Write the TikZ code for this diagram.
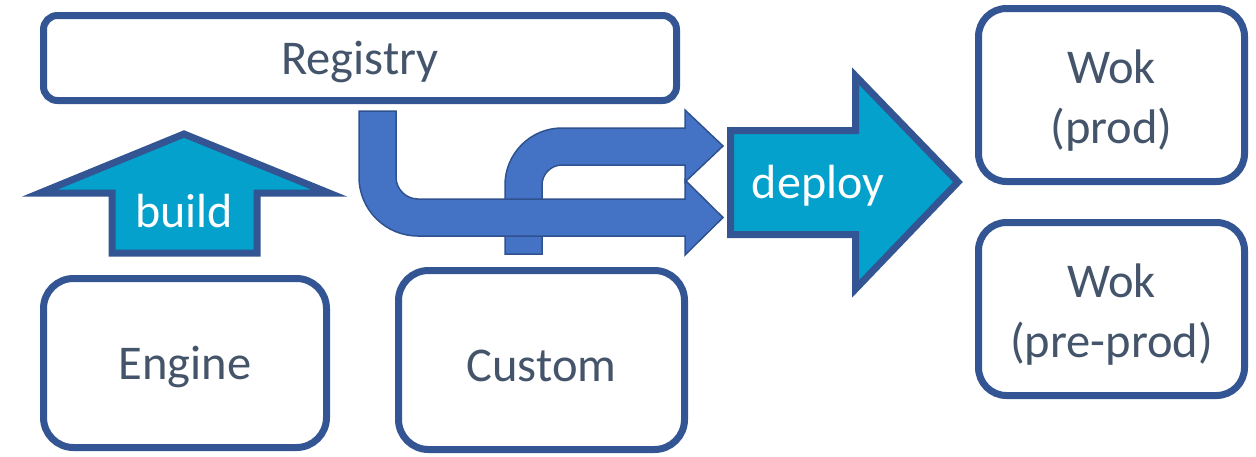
\documentclass[tikz,border=0pt]{standalone}
\usepackage{fontspec}
\setmainfont{Carlito}
\definecolor{boxline}{HTML}{335593}
\definecolor{txt}{HTML}{44546A}
\definecolor{cyanfill}{HTML}{03A1CB}
\definecolor{bluefill}{HTML}{4472C4}
\definecolor{blueline}{HTML}{2F528F}
\tikzset{
  box/.style={draw=boxline, line width=7pt, rounded corners=#1, fill=white, inner sep=0pt},
  boxtext/.style={text=txt, font=\fontsize{48.5}{60}\selectfont, align=center, inner sep=0pt},
  bigarrow/.style={draw=boxline, line width=7pt, fill=cyanfill, line join=miter, miter limit=10},
  bentarrow/.style={draw=blueline, line width=1.5pt, fill=bluefill, line join=miter},
  arrowlabel/.style={text=white, font=\fontsize{48}{56}\selectfont, inner sep=0pt}
}
\begin{document}
\begin{tikzpicture}[x=1pt,y=-1pt]
\useasboundingbox (0,0) rectangle (1256,456);
% boxes
\node[box=14pt, minimum width=633pt, minimum height=85pt] (reg) at (360,58) {};
\node[boxtext] (regt) at ([yshift=-4pt]reg.center) {Registry};
\node[box=30pt, minimum width=283pt, minimum height=169pt] (eng) at (185,363) {};
\node[boxtext] (engt) at ([yshift=-4pt]eng.center) {Engine};
\node[box=30pt, minimum width=286pt, minimum height=179pt] (cus) at (541.5,360) {};
\node[boxtext] (cust) at ([yshift=-6pt]cus.center) {Custom};
\node[box=28pt, minimum width=266pt, minimum height=173pt] (wokp) at (1111.5,95) {};
\node[boxtext] (wokpt) at ([yshift=-6pt]wokp.center) {Wok\\(prod)};
\node[box=28pt, minimum width=266pt, minimum height=173pt] (wokpp) at (1111.5,309) {};
\node[boxtext] (wokppt) at ([yshift=-6pt]wokpp.center) {Wok\\(pre-prod)};
% build arrow
\draw[bigarrow] (184,134) -- (329,193) -- (257,193) -- (257,253) -- (112,253) -- (112,193) -- (40,193) -- cycle;
\node[arrowlabel] (build) at (184,211) {build};
% deploy arrow
\draw[bigarrow] (730.5,130.5) -- (855.5,130.5) -- (855.5,76) -- (958,182) -- (855.5,289) -- (855.5,234.5) -- (730.5,234.5) -- cycle;
\node[arrowlabel] (deploy) at (818,186) {deploy};
% bent arrow from Custom (below)
\draw[bentarrow] (505,254) -- (505,185) .. controls (505,153.5) and (530.5,128) .. (562,128)
  -- (685,128) -- (685,110) -- (723,146) -- (685,182) -- (685,165) -- (562,165)
  .. controls (551,165) and (542,174) .. (542,185) -- (542,254) -- cycle;
% bent arrow from Registry (on top)
\draw[bentarrow] (359,111) -- (359,177) .. controls (359,209.6) and (385.4,236) .. (418,236)
  -- (685,236) -- (685,255) -- (723,217.5) -- (685,180) -- (685,199) -- (418,199)
  .. controls (405.85,199) and (396,189.15) .. (396,177) -- (396,111) -- cycle;
\end{tikzpicture}
\end{document}
